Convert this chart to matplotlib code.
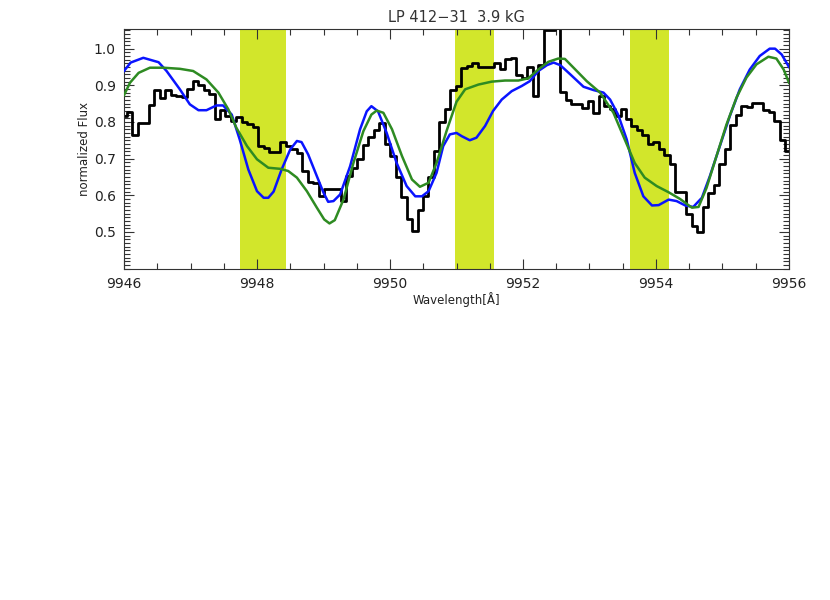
import numpy as np
import matplotlib
matplotlib.use('Agg')
import matplotlib.pyplot as plt
from matplotlib.ticker import MultipleLocator, FormatStrFormatter

# observed spectrum (pixel grid start + step, one flux value per pixel)
obs_start = 9946.0
obs_step = 0.0825
obs_flux = [0.815, 0.826, 0.763, 0.798, 0.798, 0.845, 0.886, 0.866, 0.886, 0.873,
            0.870, 0.869, 0.889, 0.911, 0.901, 0.887, 0.875, 0.807, 0.832, 0.816,
            0.802, 0.814, 0.800, 0.795, 0.786, 0.734, 0.728, 0.718, 0.718, 0.745,
            0.734, 0.726, 0.714, 0.667, 0.636, 0.634, 0.599, 0.617, 0.617, 0.617,
            0.584, 0.652, 0.675, 0.700, 0.736, 0.760, 0.778, 0.796, 0.740, 0.707,
            0.650, 0.596, 0.534, 0.503, 0.561, 0.597, 0.650, 0.720, 0.800, 0.834,
            0.886, 0.898, 0.948, 0.952, 0.962, 0.950, 0.950, 0.950, 0.962, 0.945,
            0.973, 0.975, 0.927, 0.920, 0.950, 0.870, 0.955, 1.050, 1.050, 1.100,
            0.882, 0.860, 0.850, 0.850, 0.839, 0.857, 0.825, 0.870, 0.843, 0.836,
            0.816, 0.834, 0.809, 0.790, 0.777, 0.763, 0.740, 0.746, 0.727, 0.710,
            0.684, 0.608, 0.608, 0.550, 0.517, 0.500, 0.568, 0.605, 0.629, 0.684,
            0.725, 0.793, 0.818, 0.843, 0.842, 0.852, 0.853, 0.832, 0.827, 0.802,
            0.752, 0.720]

# model 1 (blue)
blue_wl = [9946.00, 9946.10, 9946.29, 9946.52, 9946.64, 9946.84, 9946.99, 9947.12,
           9947.24, 9947.39, 9947.49, 9947.62, 9947.74, 9947.87, 9948.00, 9948.10,
           9948.17, 9948.25, 9948.37, 9948.50, 9948.60, 9948.67, 9948.77, 9948.90,
           9949.00, 9949.07, 9949.15, 9949.25, 9949.40, 9949.55, 9949.65, 9949.72,
           9949.82, 9949.95, 9950.10, 9950.25, 9950.38, 9950.48, 9950.58, 9950.70,
           9950.80, 9950.90, 9951.00, 9951.08, 9951.20, 9951.30, 9951.43, 9951.55,
           9951.68, 9951.83, 9951.98, 9952.10, 9952.23, 9952.36, 9952.46, 9952.56,
           9952.71, 9952.91, 9953.06, 9953.21, 9953.31, 9953.43, 9953.56, 9953.68,
           9953.81, 9953.94, 9954.04, 9954.19, 9954.31, 9954.44, 9954.56, 9954.69,
           9954.81, 9954.96, 9955.11, 9955.26, 9955.41, 9955.56, 9955.71, 9955.79,
           9955.89, 9956.00]
blue_flux = [0.939, 0.962, 0.975, 0.963, 0.939, 0.889, 0.848, 0.832,
             0.832, 0.845, 0.845, 0.820, 0.752, 0.670, 0.611, 0.593,
             0.593, 0.610, 0.670, 0.725, 0.748, 0.745, 0.711, 0.652,
             0.607, 0.582, 0.584, 0.602, 0.679, 0.780, 0.829, 0.843,
             0.829, 0.770, 0.688, 0.625, 0.597, 0.597, 0.611, 0.661,
             0.734, 0.766, 0.770, 0.761, 0.750, 0.757, 0.789, 0.830,
             0.861, 0.884, 0.898, 0.911, 0.939, 0.955, 0.962, 0.955,
             0.930, 0.896, 0.887, 0.880, 0.861, 0.820, 0.752, 0.661,
             0.597, 0.572, 0.573, 0.588, 0.584, 0.572, 0.568, 0.593,
             0.652, 0.734, 0.816, 0.889, 0.943, 0.980, 1.000, 1.000,
             0.984, 0.950]

# model 2 (green)
green_wl = [9946.00, 9946.09, 9946.22, 9946.39, 9946.59, 9946.84, 9947.04, 9947.24,
            9947.42, 9947.57, 9947.69, 9947.85, 9948.00, 9948.17, 9948.35, 9948.47,
            9948.60, 9948.75, 9948.90, 9949.01, 9949.09, 9949.17, 9949.30, 9949.45,
            9949.60, 9949.72, 9949.80, 9949.90, 9950.03, 9950.18, 9950.33, 9950.45,
            9950.58, 9950.70, 9950.85, 9951.00, 9951.13, 9951.33, 9951.53, 9951.73,
            9951.93, 9952.08, 9952.23, 9952.38, 9952.53, 9952.63, 9952.76, 9952.96,
            9953.16, 9953.36, 9953.53, 9953.68, 9953.83, 9954.01, 9954.19, 9954.36,
            9954.54, 9954.64, 9954.76, 9954.91, 9955.06, 9955.21, 9955.36, 9955.51,
            9955.69, 9955.81, 9955.92, 9956.00]
green_flux = [0.873, 0.907, 0.934, 0.948, 0.948, 0.945, 0.939, 0.916,
              0.880, 0.834, 0.784, 0.734, 0.698, 0.675, 0.672, 0.666,
              0.648, 0.611, 0.566, 0.534, 0.523, 0.532, 0.588, 0.688,
              0.775, 0.820, 0.831, 0.825, 0.780, 0.707, 0.643, 0.623,
              0.634, 0.688, 0.775, 0.855, 0.889, 0.902, 0.910, 0.913,
              0.913, 0.919, 0.943, 0.964, 0.973, 0.972, 0.948, 0.911,
              0.880, 0.825, 0.752, 0.688, 0.648, 0.625, 0.608, 0.590,
              0.566, 0.568, 0.620, 0.707, 0.793, 0.866, 0.921, 0.957,
              0.978, 0.973, 0.943, 0.907]

# highlighted wavelength windows
bands = [(9947.75, 9948.44), (9950.98, 9951.56), (9953.61, 9954.20)]

obs_wl = obs_start + obs_step * np.arange(len(obs_flux))

fig = plt.figure(figsize=(8.3, 6.0), dpi=100)
ax = fig.add_axes([0.1494, 0.5525, 0.8012, 0.4])

for lo, hi in bands:
    ax.axvspan(lo, hi, color='#d2e62b', lw=0, zorder=0)

ax.step(obs_wl, obs_flux, where='mid', color='black', lw=2.0, zorder=2)
ax.plot(blue_wl, blue_flux, color='#0a14ff', lw=1.8, zorder=3)
ax.plot(green_wl, green_flux, color='#2e8b22', lw=1.8, zorder=4)

ax.set_xlim(9946, 9956)
ax.set_ylim(0.40, 1.055)

ax.xaxis.set_major_locator(MultipleLocator(2))
ax.xaxis.set_minor_locator(MultipleLocator(0.5))
ax.yaxis.set_major_locator(MultipleLocator(0.1))
ax.yaxis.set_minor_locator(MultipleLocator(0.01))
ax.yaxis.set_major_formatter(FormatStrFormatter('%.1f'))
ax.set_yticks([0.5, 0.6, 0.7, 0.8, 0.9, 1.0])
ax.tick_params(which='both', direction='in', top=True, right=True,
               labelsize=10, colors='#333333', labelcolor='#222222')
ax.tick_params(which='major', length=7, width=0.8, pad=6)
ax.tick_params(which='minor', length=4, width=0.8)
for sp in ax.spines.values():
    sp.set_color('#333333')
    sp.set_linewidth(0.8)

ax.set_title('LP 412\u221231  3.9 kG', fontsize=10.5, color='#333333', pad=5)
ax.set_xlabel('Wavelength[\u00c5]', fontsize=8.5, labelpad=1, color='#222222')
ax.set_ylabel('normalized Flux', fontsize=8.5, labelpad=2, color='#222222')

fig.savefig('out.png', dpi=100)
